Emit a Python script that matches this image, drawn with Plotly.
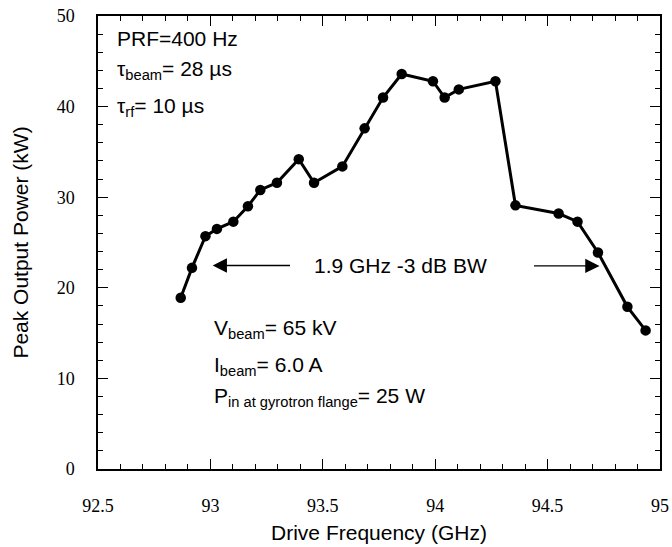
import plotly.graph_objects as go

# Data
freq_ghz = [92.868, 92.918, 92.978, 93.029, 93.102, 93.167, 93.222, 93.296,
            93.393, 93.461, 93.587, 93.686, 93.768, 93.851, 93.990, 94.042,
            94.105, 94.268, 94.357, 94.549, 94.633, 94.724, 94.855, 94.936]
power_kw = [18.9, 22.2, 25.7, 26.5, 27.3, 29.0, 30.8, 31.6,
            34.2, 31.6, 33.4, 37.6, 41.0, 43.6, 42.8, 41.0,
            41.9, 42.8, 29.1, 28.2, 27.3, 23.9, 17.9, 15.3]

x_range = [92.5, 95]
x_major_step = 0.5
x_minor_step = 0.1
y_range = [0, 50]
y_major_step = 10
y_minor_step = 2

SANS = "Liberation Sans, Arial, Helvetica"
SERIF = "Liberation Serif, Times New Roman, serif"

fig = go.Figure()
fig.add_trace(go.Scatter(
    x=freq_ghz, y=power_kw, mode="lines+markers",
    line=dict(color="black", width=3),
    marker=dict(color="black", size=10.5),
    showlegend=False, hoverinfo="skip"))
# empty helper traces so the top / right tick axes get drawn
fig.add_trace(go.Scatter(x=[], y=[], xaxis="x2", yaxis="y", showlegend=False, hoverinfo="skip"))
fig.add_trace(go.Scatter(x=[], y=[], xaxis="x", yaxis="y2", showlegend=False, hoverinfo="skip"))

annots = []
tf = dict(family=SANS, size=21, color="black")
def txt(x, y, s, xanchor="left"):
    annots.append(dict(x=x, y=y, xref="x", yref="y", text=s, showarrow=False,
                       xanchor=xanchor, yanchor="middle", font=tf))

txt(92.574, 47.5, "PRF=400 Hz")
txt(92.574, 44.0, "τ<sub>beam</sub>= 28 µs")
txt(92.574, 40.0, "τ<sub>rf</sub>= 10 µs")
txt(93.007, 15.5, "V<sub>beam</sub>= 65 kV")
txt(93.007, 11.4, "I<sub>beam</sub>= 6.0 A")
txt(93.007, 8.0, "P<sub>in at gyrotron flange</sub>= 25 W")
txt(93.846, 22.5, "1.9 GHz -3 dB BW", xanchor="center")

# arrows
for tip, tail, yy in [(93.010, 93.361, 22.46), (94.731, 94.433, 22.41)]:
    annots.append(dict(x=tip, y=yy, ax=tail, ay=yy, xref="x", yref="y",
                       axref="x", ayref="y", text="", showarrow=True,
                       arrowhead=2, arrowsize=2.2, arrowwidth=1.3,
                       arrowcolor="black"))

tick_common = dict(
    showline=True, linecolor="black", linewidth=1.5,
    ticks="inside", ticklen=10, tickwidth=1.3, tickcolor="black",
    showgrid=False, zeroline=False,
)
xminor = dict(dtick=x_minor_step, ticks="inside", ticklen=5, tickcolor="black", tickwidth=1.2)
yminor = dict(dtick=y_minor_step, ticks="inside", ticklen=5, tickcolor="black", tickwidth=1.2)

fig.update_layout(
    xaxis=dict(
        range=x_range, tickmode="linear", tick0=x_range[0], dtick=x_major_step,
        minor=xminor, mirror=True, ticklabelstandoff=20,
        tickfont=dict(family=SERIF, size=18, color="black"),
        title=dict(text="Drive Frequency (GHz)", font=dict(family=SANS, size=21, color="black"), standoff=10),
        **tick_common),
    yaxis=dict(
        range=y_range, tickmode="linear", tick0=0, dtick=y_major_step,
        minor=yminor, mirror=True, ticksuffix="\u00a0\u00a0\u00a0\u00a0",
        tickfont=dict(family=SERIF, size=18, color="black"),
        title=dict(text="Peak Output Power (kW)", font=dict(family=SANS, size=21, color="black"), standoff=22),
        **tick_common),
    # top and right frame ticks (mirrored)
    xaxis2=dict(
        range=x_range, tickmode="linear", tick0=x_range[0], dtick=x_major_step,
        minor=xminor, overlaying="x", side="top", anchor="y",
        showticklabels=False, **tick_common),
    yaxis2=dict(
        range=y_range, tickmode="linear", tick0=0, dtick=y_major_step,
        minor=yminor, overlaying="y", side="right", anchor="x",
        showticklabels=False, **tick_common),
    width=672, height=547,
    margin=dict(l=98, r=12, t=16, b=78, autoexpand=False),
    paper_bgcolor="white", plot_bgcolor="white",
    annotations=annots,
)

fig.write_html("out.html")
